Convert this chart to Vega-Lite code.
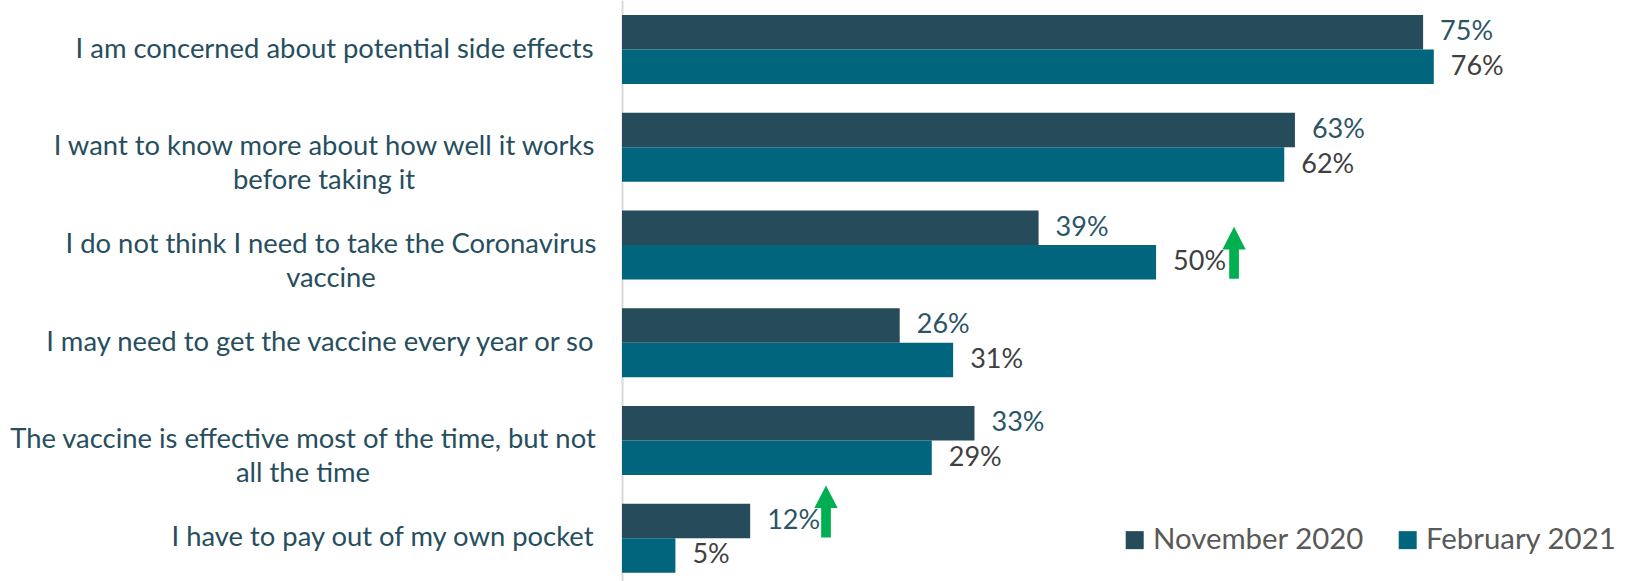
{
  "$schema": "https://vega.github.io/schema/vega-lite/v6.json",
  "width": 1003,
  "height": 581,
  "autosize": "none",
  "padding": {"left": 622, "top": 0, "right": 0, "bottom": 0},
  "background": "white",
  "config": {"view": {"stroke": null}, "font": "Lato"},
  "datasets": {
    "bars": [
      {"question": "I am concerned about potential side effects", "period": "November 2020", "share": 0.75},
      {"question": "I am concerned about potential side effects", "period": "February 2021", "share": 0.76},
      {"question": "I want to know more about how well it works\nbefore taking it", "period": "November 2020", "share": 0.63},
      {"question": "I want to know more about how well it works\nbefore taking it", "period": "February 2021", "share": 0.62},
      {"question": "I do not think I need to take the Coronavirus\nvaccine", "period": "November 2020", "share": 0.39},
      {"question": "I do not think I need to take the Coronavirus\nvaccine", "period": "February 2021", "share": 0.50},
      {"question": "I may need to get the vaccine every year or so", "period": "November 2020", "share": 0.26},
      {"question": "I may need to get the vaccine every year or so", "period": "February 2021", "share": 0.31},
      {"question": "The vaccine is effective most of the time, but not\nall the time", "period": "November 2020", "share": 0.33},
      {"question": "The vaccine is effective most of the time, but not\nall the time", "period": "February 2021", "share": 0.29},
      {"question": "I have to pay out of my own pocket", "period": "November 2020", "share": 0.12},
      {"question": "I have to pay out of my own pocket", "period": "February 2021", "share": 0.05}
    ],
    "arrows": [
      {"question": "I do not think I need to take the Coronavirus\nvaccine", "period": "February 2021", "share": 0.573},
      {"question": "I have to pay out of my own pocket", "period": "November 2020", "share": 0.191}
    ]
  },
  "encoding": {
    "y": {
      "field": "question",
      "type": "nominal",
      "sort": null,
      "scale": {
        "domain": [
          "I am concerned about potential side effects",
          "I want to know more about how well it works\nbefore taking it",
          "I do not think I need to take the Coronavirus\nvaccine",
          "I may need to get the vaccine every year or so",
          "The vaccine is effective most of the time, but not\nall the time",
          "I have to pay out of my own pocket"
        ],
        "paddingInner": 0.293,
        "paddingOuter": 0.119,
        "align": 0.644
      },
      "axis": {
        "title": null,
        "ticks": false,
        "grid": false,
        "domainColor": "#D9D9D9",
        "domainWidth": 2,
        "labelFont": "Lato",
        "labelFontSize": 27.4,
        "labelColor": "#264E5E",
        "labelLimit": 0,
        "labelLineHeight": 34,
        "labelBaseline": "middle",
        "labelExpr": "split(datum.label, '\\n')",
        "labelAlign": {
          "condition": {"test": "indexof(datum.value, '\\n') >= 0", "value": "center"},
          "value": "right"
        },
        "labelPadding": {
          "condition": [
            {"test": "indexof(datum.value, 'I want') == 0", "value": 298.5},
            {"test": "indexof(datum.value, 'I do not') == 0", "value": 291.5},
            {"test": "indexof(datum.value, 'The vaccine') == 0", "value": 319.5}
          ],
          "value": 29
        }
      }
    },
    "yOffset": {
      "field": "period",
      "type": "nominal",
      "scale": {"domain": ["November 2020", "February 2021"]}
    },
    "x": {
      "field": "share",
      "type": "quantitative",
      "scale": {"domain": [0, 0.939], "nice": false, "zero": true},
      "axis": null
    }
  },
  "layer": [
    {
      "data": {"name": "bars"},
      "mark": {"type": "bar"},
      "encoding": {
        "color": {
          "field": "period",
          "type": "nominal",
          "scale": {"domain": ["November 2020", "February 2021"], "range": ["#264B5B", "#00657D"]},
          "legend": {
            "orient": "none",
            "legendX": 498,
            "legendY": 525,
            "direction": "horizontal",
            "title": null,
            "symbolType": "square",
            "symbolSize": 324,
            "symbolStrokeWidth": 0,
            "labelFont": "Lato",
            "labelFontSize": 29.4,
            "labelLimit": 0,
            "labelColor": "#595959",
            "columnPadding": 29,
            "labelOffset": 3.5
          }
        }
      }
    },
    {
      "data": {"name": "bars"},
      "mark": {"type": "text", "align": "left", "baseline": "middle", "dx": 17, "fontSize": 27, "font": "Lato"},
      "encoding": {
        "text": {"field": "share", "type": "quantitative", "format": ".0%"},
        "color": {
          "condition": {"test": "datum.period === 'November 2020'", "value": "#2B5566"},
          "value": "#404040"
        }
      }
    },
    {
      "data": {"name": "arrows"},
      "mark": {
        "type": "point",
        "shape": "M0,-1.365L0.448,-0.495L0.187,-0.495L0.187,0.635L-0.187,0.635L-0.187,-0.495L-0.448,-0.495Z",
        "filled": true,
        "size": 2704,
        "color": "#00B050",
        "opacity": 1,
        "strokeWidth": 0
      }
    }
  ]
}
